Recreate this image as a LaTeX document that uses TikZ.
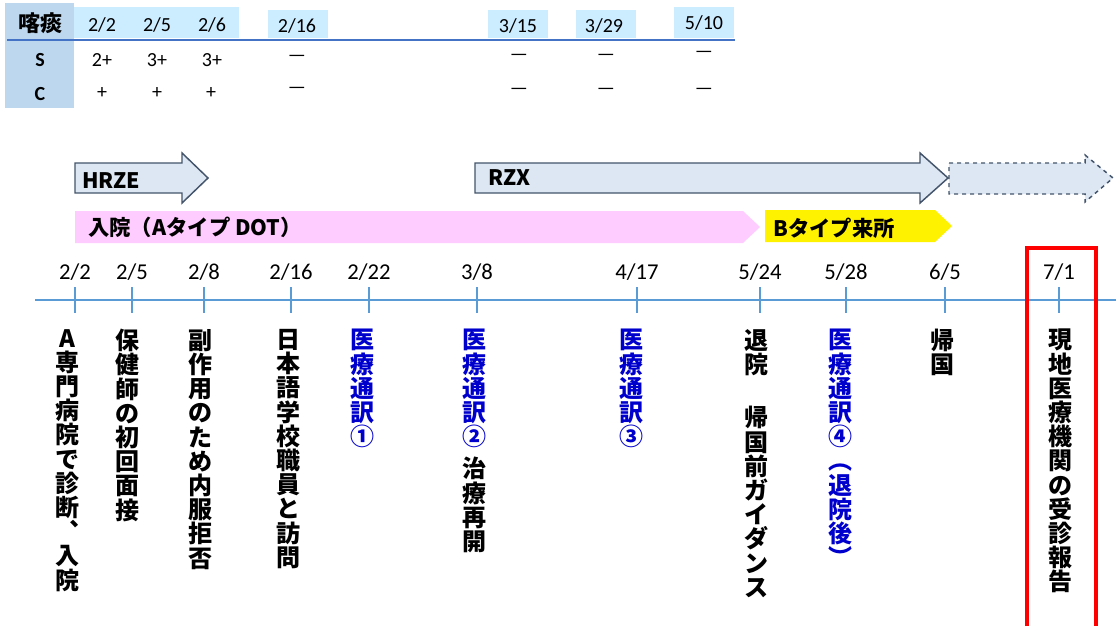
\documentclass[tikz,border=0pt]{standalone}
\usepackage{fontspec}
\setmainfont{Carlito}
\newfontfamily\jp{Noto Sans CJK JP}
\definecolor{lblue}{RGB}{204,236,255}
\definecolor{mblue}{RGB}{189,215,238}
\definecolor{lineblue}{RGB}{68,114,196}
\definecolor{axisblue}{RGB}{91,155,213}
\definecolor{arrowfill}{RGB}{221,231,244}
\definecolor{arrowline}{RGB}{68,84,106}
\definecolor{pinkbar}{RGB}{255,204,255}
\definecolor{ibl}{RGB}{0,0,204}
\definecolor{redbox}{RGB}{255,0,0}
\newcommand\vsetup{\lineskiplimit=-20pt\relax\lineskip=0pt\relax}
\begin{document}
\begin{tikzpicture}[x=0.75pt,y=-0.75pt,
  tcell/.style={inner sep=0, font=\fontsize{15}{18}\selectfont},
  tbold/.style={inner sep=0, font=\fontsize{15}{18}\selectfont\bfseries},
  jpbold/.style={inner sep=0, font=\jp\bfseries\fontsize{16}{18}\selectfont},
  vtxt/.style={anchor=north, align=center, inner sep=0,
    font=\jp\bfseries\fontsize{18}{18.15}\selectfont\vsetup},
  vblue/.style={vtxt, text=ibl},
  tl/.style={inner sep=0, font=\fontsize{17}{20}\selectfont},
  tick/.style={draw=axisblue, line width=1.9pt},
  drug/.style={draw=arrowline, line width=1.1pt, fill=arrowfill, line join=miter}]
\useasboundingbox (0,0) rectangle (1116,626);

% ---------- table ----------
\fill[mblue] (5,3) rectangle (74,108);
\fill[lblue] (74,7) rectangle (239,38);
\fill[lblue] (268,10) rectangle (328,38);
\fill[lblue] (488,10) rectangle (548,38);
\fill[lblue] (576,10) rectangle (636,38);
\fill[lblue] (674,7) rectangle (734,38);
\draw[lineblue, line width=2.2pt] (7,40) -- (735,40);

\node[jpbold, font=\jp\bfseries\fontsize{16.5}{18}\selectfont] (hk) at (40,23) {喀痰};
\node[tcell] (h1) at (102,25) {2/2};
\node[tcell] (h2) at (157,25) {2/5};
\node[tcell] (h3) at (212,25) {2/6};
\node[tcell] (h4) at (297,26) {2/16};
\node[tcell] (h5) at (518,26) {3/15};
\node[tcell] (h6) at (604,26) {3/29};
\node[tcell] (h7) at (704,23) {5/10};

\node[tbold] (rs) at (40,60) {S};
\node[tcell] (s1) at (102,60) {2+};
\node[tcell] (s2) at (157,60) {3+};
\node[tcell] (s3) at (212,60) {3+};
\node[tcell] (s4) at (297,58) {—};
\node[tcell] (s5) at (519,57) {—};
\node[tcell] (s6) at (606,57) {—};
\node[tcell] (s7) at (704,54) {—};

\node[tbold] (rc) at (40,94) {C};
\node[tcell] (c1) at (102,93) {+};
\node[tcell] (c2) at (157,93) {+};
\node[tcell] (c3) at (211,93) {+};
\node[tcell] (c4) at (297,90) {—};
\node[tcell] (c5) at (519,91) {—};
\node[tcell] (c6) at (606,91) {—};
\node[tcell] (c7) at (704,91) {—};

% ---------- drug arrows ----------
\draw[drug] (75,163) -- (182,163) -- (182,153) -- (208,178) -- (182,203) -- (182,193) -- (75,193) -- cycle;
\node[jpbold, anchor=west] (hrze) at (82,181) {HRZE};
\draw[drug] (475,163) -- (920,163) -- (920,153) -- (948,178) -- (920,203) -- (920,193) -- (475,193) -- cycle;
\node[jpbold, anchor=west] (rzx) at (488,178) {RZX};
\draw[drug, dashed] (949,163) -- (1085,163) -- (1085,155) -- (1113,178) -- (1085,202) -- (1085,194) -- (949,194) -- cycle;

% ---------- hospital bars ----------
\fill[pinkbar] (75,211) -- (743,211) -- (760,227) -- (743,243) -- (75,243) -- cycle;
\node[jpbold, anchor=west] (adot) at (88,227) {入院（Aタイプ DOT）};
\fill[yellow] (765,210) -- (935,210) -- (952,226) -- (935,242) -- (765,242) -- cycle;
\node[jpbold, anchor=west] (btype) at (773,228) {Bタイプ来所};

% ---------- timeline ----------
\draw[draw=axisblue, line width=1.9pt] (35,300) -- (1116,300);
\foreach \x in {75,132,204,291,369,477,637,760,846,945,1059}
  \draw[tick] (\x,287) -- (\x,313);

\node[tl] (d1) at (75,272) {2/2};
\node[tl] (d2) at (132,272) {2/5};
\node[tl] (d3) at (204,272) {2/8};
\node[tl] (d4) at (291,272) {2/16};
\node[tl] (d5) at (369,272) {2/22};
\node[tl] (d6) at (477,272) {3/8};
\node[tl] (d7) at (637,272) {4/17};
\node[tl] (d8) at (760,272) {5/24};
\node[tl] (d9) at (846,272) {5/28};
\node[tl] (d10) at (945,272) {6/5};
\node[tl] (d11) at (1059,272) {7/1};

% ---------- vertical event texts ----------
\node[vtxt] (e1) at (67,329) {A\\専\\門\\病\\院\\で\\診\\断\\︑\\入\\院};
\node[vtxt] (e2) at (127,329) {保\\健\\師\\の\\初\\回\\面\\接};
\node[vtxt] (e3) at (200,329) {副\\作\\用\\の\\た\\め\\内\\服\\拒\\否};
\node[vtxt] (e4) at (288,329) {日\\本\\語\\学\\校\\職\\員\\と\\訪\\問};
\node[vblue] (e5) at (362,329) {医\\療\\通\\訳\\①};
\node[vtxt] (e6) at (474,329) {\textcolor{ibl}{医}\\\textcolor{ibl}{療}\\\textcolor{ibl}{通}\\\textcolor{ibl}{訳}\\\textcolor{ibl}{②}\\[6pt]治\\療\\再\\開};
\node[vblue] (e7) at (631,329) {医\\療\\通\\訳\\③};
\node[vtxt] (e8) at (756,329) {退\\院\\[22pt]帰\\国\\前\\ガ\\イ\\ダ\\ン\\ス};
\node[vblue] (e9) at (840,329) {医\\療\\通\\訳\\④\\︵\\退\\院\\後\\︶};
\node[vtxt] (e10) at (942,329) {帰\\国};
\node[vtxt] (e11) at (1060,329) {現\\地\\医\\療\\機\\関\\の\\受\\診\\報\\告};

% ---------- highlight box ----------
\draw[redbox, line width=3pt] (1027,626) -- (1027,248) -- (1096,248) -- (1096,626);
\end{tikzpicture}
\end{document}
